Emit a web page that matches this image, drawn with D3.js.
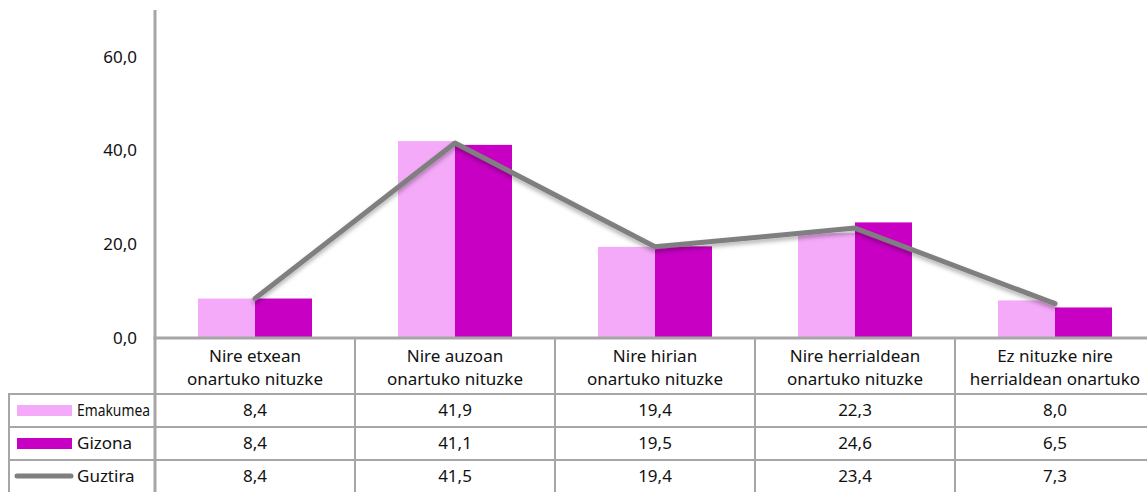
<!DOCTYPE html>
<html>
<head>
<meta charset="utf-8">
<script src="https://cdn.jsdelivr.net/npm/d3@7"></script>
<style>
  body { margin: 0; background: #fff; }
  svg { display: block; font-family: "Noto Sans", sans-serif; }
</style>
</head>
<body>
<div id="chart"></div>
<script>
// categories (two-line labels)
var categories = [
	["Nire etxean", "onartuko nituzke"],
	["Nire auzoan", "onartuko nituzke"],
	["Nire hirian", "onartuko nituzke"],
	["Nire herrialdean", "onartuko nituzke"],
	["Ez nituzke nire", "herrialdean onartuko"]
];
var emakumea = [8.4, 41.9, 19.4, 22.3, 8.0];
var gizona = [8.4, 41.1, 19.5, 24.6, 6.5];
var guztira = [8.4, 41.5, 19.4, 23.4, 7.3];
var seriesNames = ["Emakumea", "Gizona", "Guztira"];
var yTicks = [0, 20, 40, 60];

var width = 1147, height = 492;
var plotLeft = 155, plotRight = 1155, plotTop = 10, plotBottom = 338;
var pink = "#f4aaf8", magenta = "#c800c4", grey = "#7f7f7f", lineGrey = "#a6a6a6";
var fs = 17;

var svg = d3.select("#chart").append("svg")
	.attr("width", width).attr("height", height);

var defs = svg.append("defs");
var f = defs.append("filter").attr("id", "shadow")
	.attr("x", "-10%").attr("y", "-20%").attr("width", "120%").attr("height", "160%");
f.append("feDropShadow").attr("dx", 0).attr("dy", 3).attr("stdDeviation", 2)
	.attr("flood-color", "#000").attr("flood-opacity", 0.3);

var x = d3.scaleBand().domain(d3.range(categories.length))
	.range([plotLeft, plotRight]);
var y = d3.scaleLinear().domain([0, 69.8]).range([plotBottom, plotTop]);
var barW = 57;

// y axis labels
var yAxis = d3.axisLeft(y).tickValues(yTicks).tickSize(0).tickPadding(0)
	.tickFormat(function(d) { return d3.format(".1f")(d).replace(".", ","); });
var ya = svg.append("g").attr("transform", "translate(137,0)").call(yAxis);
ya.select(".domain").remove();
ya.selectAll("text").attr("font-size", fs).attr("fill", "#111")
	.attr("font-family", "Noto Sans, sans-serif").attr("dy", "0.35em");

// bars
var bars = svg.append("g");
bars.selectAll("rect.e").data(emakumea).enter().append("rect")
	.attr("x", function(d, i) { return x(i) + x.bandwidth() / 2 - barW; })
	.attr("y", function(d) { return y(d); })
	.attr("width", barW)
	.attr("height", function(d) { return y(0) - y(d); })
	.attr("fill", pink);
bars.selectAll("rect.g").data(gizona).enter().append("rect")
	.attr("x", function(d, i) { return x(i) + x.bandwidth() / 2; })
	.attr("y", function(d) { return y(d); })
	.attr("width", barW)
	.attr("height", function(d) { return y(0) - y(d); })
	.attr("fill", magenta);

// line
var line = d3.line()
	.x(function(d, i) { return x(i) + x.bandwidth() / 2; })
	.y(function(d) { return y(d); });
svg.append("path").datum(guztira)
	.attr("d", line)
	.attr("fill", "none")
	.attr("stroke", grey)
	.attr("stroke-width", 5)
	.attr("stroke-linecap", "round")
	.attr("stroke-linejoin", "round")
	.attr("filter", "url(#shadow)");

// vertical axis line
svg.append("line").attr("x1", plotLeft).attr("x2", plotLeft)
	.attr("y1", plotTop).attr("y2", height)
	.attr("stroke", lineGrey).attr("stroke-width", 3);

// data table
var rowTop = [394, 427, 460];
var rowH = 33;
var table = svg.append("g");

// column separators
x.domain().slice(1).forEach(function(i) {
	table.append("line").attr("x1", x(i)).attr("x2", x(i))
		.attr("y1", plotBottom).attr("y2", height)
		.attr("stroke", lineGrey).attr("stroke-width", 2);
});
// left border of legend column
table.append("line").attr("x1", 9).attr("x2", 9)
	.attr("y1", rowTop[0]).attr("y2", height)
	.attr("stroke", lineGrey).attr("stroke-width", 2);
// row lines
rowTop.forEach(function(t) {
	table.append("line").attr("x1", 8).attr("x2", width)
		.attr("y1", t).attr("y2", t)
		.attr("stroke", lineGrey).attr("stroke-width", 2);
});

// baseline
svg.append("line").attr("x1", plotLeft - 1.5).attr("x2", width)
	.attr("y1", plotBottom).attr("y2", plotBottom)
	.attr("stroke", lineGrey).attr("stroke-width", 3);

// category header
categories.forEach(function(c, i) {
	var t = table.append("text")
		.attr("x", x(i) + x.bandwidth() / 2)
		.attr("text-anchor", "middle")
		.attr("font-size", fs).attr("fill", "#111");
	t.append("tspan").attr("x", x(i) + x.bandwidth() / 2).attr("y", 362).text(c[0]);
	t.append("tspan").attr("x", x(i) + x.bandwidth() / 2).attr("y", 385).text(c[1]);
});

// values
var rows = [emakumea, gizona, guztira];
rows.forEach(function(vals, r) {
	table.selectAll("text.v" + r).data(vals).enter().append("text")
		.attr("x", function(d, i) { return x(i) + x.bandwidth() / 2; })
		.attr("y", rowTop[r] + rowH / 2)
		.attr("dy", "0.35em")
		.attr("text-anchor", "middle")
		.attr("font-size", fs).attr("fill", "#111")
		.text(function(d) { return d3.format(".1f")(d).replace(".", ","); });
});

// legend keys
table.append("rect").attr("x", 17).attr("y", 405).attr("width", 55).attr("height", 11).attr("fill", pink);
table.append("rect").attr("x", 17).attr("y", 438).attr("width", 55).attr("height", 11).attr("fill", magenta);
table.append("line").attr("x1", 17).attr("x2", 71).attr("y1", 476).attr("y2", 476)
	.attr("stroke", grey).attr("stroke-width", 5).attr("stroke-linecap", "round");

seriesNames.forEach(function(n, r) {
	var t = table.append("text").attr("x", 77).attr("y", rowTop[r] + rowH / 2)
		.attr("dy", "0.35em").attr("font-size", fs).attr("fill", "#111").text(n);
	if (n === "Emakumea") t.attr("textLength", 73).attr("lengthAdjust", "spacingAndGlyphs");
});
</script>
</body>
</html>
